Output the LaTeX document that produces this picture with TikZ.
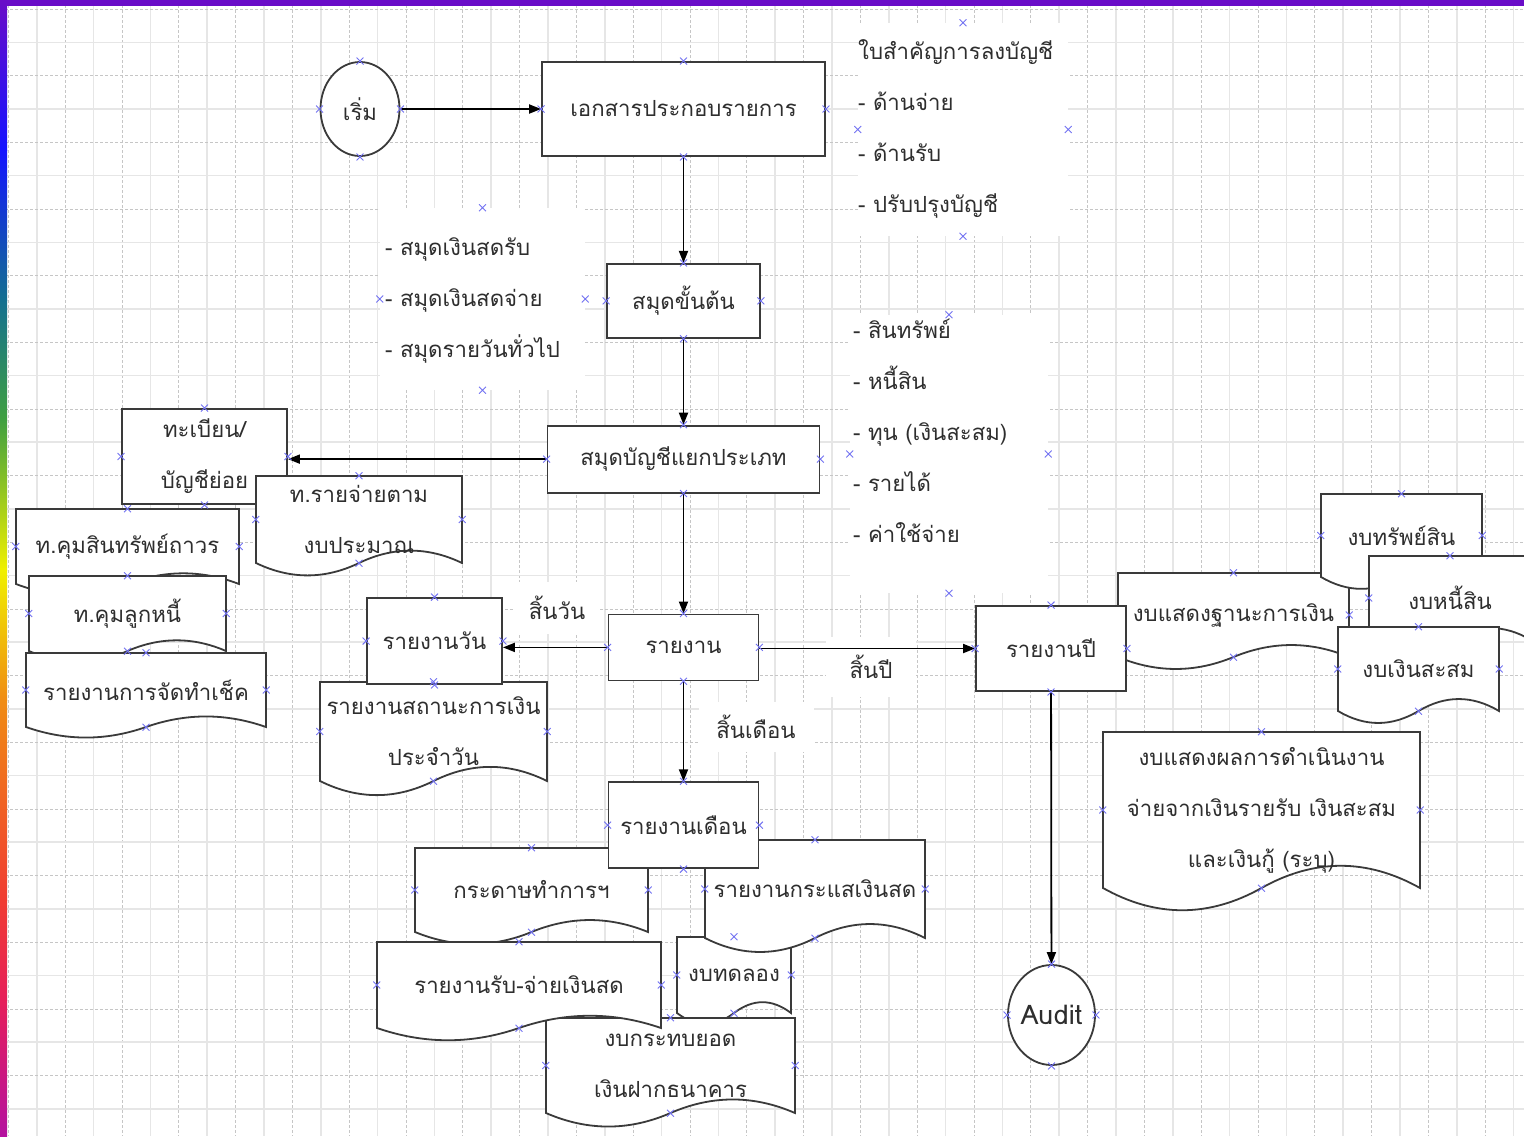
\documentclass[tikz,border=0pt]{standalone}
\usepackage{fontspec}
\newfontfamily\thaifont[Script=Thai]{Loma}
\usetikzlibrary{arrows.meta}
\usetikzlibrary{positioning}
\usetikzlibrary{shapes.geometric}
\usetikzlibrary{shapes.misc}

\definecolor{gridsolid}{HTML}{E6E6E6}
\definecolor{griddash}{HTML}{C6C6C6}
\definecolor{edgegray}{HTML}{3A3A3A}
\definecolor{markblue}{HTML}{7272F2}

% document shape: name, left, top, right, bottom, text
\newcommand{\docshape}[6]{%
  \filldraw[shape line] (#2,#3) -- (#4,#3) -- (#4,#5)
    .. controls ({#4-(#4-#2)/6},{#5-0.19*(#5-#3)}) and ({#4-(#4-#2)/3},{#5-0.19*(#5-#3)}) .. ({(#2+#4)/2},#5)
    .. controls ({(#2+#4)/2-(#4-#2)/6},{#5+0.19*(#5-#3)}) and ({#2+(#4-#2)/6},{#5+0.19*(#5-#3)}) .. (#2,#5) -- cycle;
  \node[doc text, minimum width={(#4-#2)*1pt}, minimum height={(#5-#3)*1pt}]
    (#1) at ({(#2+#4)/2},{(#3+#5)/2}) {#6};
}

\begin{document}
\begin{tikzpicture}[x=1pt,y=-1pt]
  \tikzset{
    >={Triangle[length=12pt,width=9pt]},
    every node/.style={font=\thaifont\fontsize{22.2}{51}\selectfont, text=black!82},
    shape line/.style={draw=edgegray, line width=1.8pt, fill=white},
    box/.style={shape line, rectangle, inner sep=0pt},
    oval/.style={shape line, ellipse, inner sep=0pt},
    doc text/.style={inner sep=0pt, align=center},
    list box/.style={fill=white, inner sep=0pt},
    list text/.style={align=left, inner sep=0pt, anchor=west},
    tag/.style={fill=white, inner sep=0pt},
    flow/.style={->, draw=black, line width=1.8pt},
    xmark/.style={cross out, draw=markblue, line width=0.9pt, minimum size=6pt, inner sep=0pt},
  }
  \useasboundingbox (0,0) rectangle (1524,1136);

  % grid paper
  \fill[white] (0,0) rectangle (1524,1136);
  \foreach \k in {0,...,53} {
    \pgfmathsetmacro{\gx}{8.4+28.4*\k}
    \ifodd\k \draw[gridsolid, line width=1.6pt] (\gx,0) -- (\gx,1136);
    \else \draw[griddash, line width=0.8pt, dash pattern=on 3pt off 2pt] (\gx,0) -- (\gx,1136); \fi
  }
  \foreach \k in {0,...,33} {
    \pgfmathsetmacro{\gy}{9+33.33*\k}
    \ifodd\k \draw[gridsolid, line width=1.6pt] (0,\gy) -- (1524,\gy);
    \else \draw[griddash, line width=0.8pt, dash pattern=on 3pt off 2pt] (0,\gy) -- (1524,\gy); \fi
  }

  % frame
  \fill[fill={rgb,255:red,106;green,13;blue,200}] (0,0) rectangle (1524,6);
  \shade[top color={rgb,255:red,106;green,13;blue,200}, bottom color={rgb,255:red,20;green,20;blue,255}] (0,0) rectangle (7,150);
  \shade[top color={rgb,255:red,20;green,20;blue,255}, bottom color={rgb,255:red,20;green,112;blue,144}] (0,150) rectangle (7,300);
  \shade[top color={rgb,255:red,20;green,112;blue,144}, bottom color={rgb,255:red,64;green,160;blue,64}] (0,300) rectangle (7,420);
  \shade[top color={rgb,255:red,64;green,160;blue,64}, bottom color={rgb,255:red,240;green,240;blue,0}] (0,420) rectangle (7,570);
  \shade[top color={rgb,255:red,240;green,240;blue,0}, bottom color={rgb,255:red,240;green,140;blue,20}] (0,570) rectangle (7,700);
  \shade[top color={rgb,255:red,240;green,140;blue,20}, bottom color={rgb,255:red,240;green,60;blue,50}] (0,700) rectangle (7,900);
  \shade[top color={rgb,255:red,240;green,60;blue,50}, bottom color={rgb,255:red,230;green,30;blue,90}] (0,900) rectangle (7,1000);
  \shade[top color={rgb,255:red,230;green,30;blue,90}, bottom color={rgb,255:red,180;green,17;blue,159}] (0,1000) rectangle (7,1136);

  % text boxes
  \node[list box, minimum width=210pt, minimum height=213pt] (vlist) at (963,129.5) {};
  \node[list text] at (858,129) {ใบสำคัญการลงบัญชี\\- ด้านจ่าย\\- ด้านรับ\\- ปรับปรุงบัญชี};
  \node[list box, minimum width=205pt, minimum height=182pt] (jlist) at (482.5,299) {};
  \node[list text] at (385,300) {- สมุดเงินสดรับ\\- สมุดเงินสดจ่าย\\- สมุดรายวันทั่วไป};
  \node[list box, minimum width=198pt, minimum height=278pt] (llist) at (949,454) {};
  \node[list text] at (853,431) {- สินทรัพย์\\- หนี้สิน\\- ทุน (เงินสะสม)\\- รายได้\\- ค่าใช้จ่าย};
  \node[tag, minimum width=85pt, minimum height=52pt] (eday) at (557,608) {สิ้นวัน};
  \node[tag, minimum width=115pt, minimum height=50pt] (emonth) at (756,727) {สิ้นเดือน};
  \node[tag, minimum width=90pt, minimum height=60pt] (eyear) at (871,667) {สิ้นปี};

  % main column
  \node[oval, minimum width=79pt, minimum height=94pt] (start) at (360,109) {เริ่ม};
  \node[box, minimum width=283pt, minimum height=94pt] (vouch) at (683.5,109) {เอกสารประกอบรายการ};
  \node[box, minimum width=153pt, minimum height=74pt, below=106pt of vouch] (jbook) {สมุดขั้นต้น};
  \node[box, minimum width=272pt, minimum height=67pt, below=86pt of jbook] (ledger) {สมุดบัญชีแยกประเภท};
  \node[box, minimum width=150pt, minimum height=66pt, below=120pt of ledger] (report) {รายงาน};

  % left cluster
  \node[box, minimum width=165pt, minimum height=95pt, align=center] (subreg) at (204.5,456.5) {ทะเบียน/\\บัญชีย่อย};
  \docshape{budget}{256}{476}{462}{563}{ท.รายจ่ายตาม\\งบประมาณ}
  \docshape{fixasset}{16}{509}{239}{584}{ท.คุมสินทรัพย์ถาวร}
  \docshape{debtor}{29}{576}{226}{651}{ท.คุมลูกหนี้}
  \docshape{cheque}{26}{653}{266}{727}{รายงานการจัดทำเช็ค}

  % daily
  \docshape{cashstat}{320}{682}{547}{781}{รายงานสถานะการเงิน\\ประจำวัน}
  \node[box, minimum width=135pt, minimum height=86pt] (daily) at (434.5,641) {รายงานวัน};

  % monthly
  \docshape{worksheet}{415}{848}{648}{932}{กระดาษทำการฯ}
  \docshape{trial}{677}{937}{791}{1013}{งบทดลอง}
  \docshape{bankrec}{546}{1018}{795}{1113}{งบกระทบยอด\\เงินฝากธนาคาร}
  \docshape{cashrr}{377}{942}{661}{1028}{รายงานรับ-จ่ายเงินสด}
  \docshape{cashflow}{705}{840}{925}{938}{รายงานกระแสเงินสด}
  \node[box, minimum width=150pt, minimum height=86pt, below=100pt of report] (month) {รายงานเดือน};

  % yearly
  \docshape{position}{1118}{573}{1349}{657}{งบแสดงฐานะการเงิน}
  \docshape{assets}{1321}{494}{1482}{577}{งบทรัพย์สิน}
  \docshape{liabs}{1369}{556}{1531}{640}{งบหนี้สิน}
  \docshape{reserve}{1338}{627}{1499}{711}{งบเงินสะสม}
  \node[box, minimum width=150pt, minimum height=85pt] (year) at (1051,648.5) {รายงานปี};
  \docshape{result}{1103}{732}{1420}{888}{งบแสดงผลการดำเนินงาน\\จ่ายจากเงินรายรับ เงินสะสม\\และเงินกู้ (ระบุ)}
  \node[oval, minimum width=86pt, minimum height=100pt, font=\thaifont\fontsize{27}{30}\selectfont] (audit) at (1051.5,1015) {Audit};

  % flow
  \draw[flow] (start) -- (vouch);
  \draw[flow] (vouch) -- (jbook);
  \draw[flow] (jbook) -- (ledger);
  \draw[flow] (ledger.west) -- (subreg.east |- ledger.west);
  \draw[flow] (ledger) -- (report);
  \draw[flow] (report.west) -- (daily.east |- report.west);
  \draw[flow] (report) -- (month);
  \draw[flow] (report.east |- year.west) -- (year.west);
  \draw[flow] (year) -- (audit);

  % connection marks
  \foreach \n in {start,vouch,vlist,jlist,jbook,ledger,llist,subreg,budget,debtor,cheque,
                  daily,cashstat,report,month,worksheet,cashflow,trial,cashrr,bankrec,
                  year,reserve,result,audit}
    \foreach \a in {north,south,east,west}
      \node[xmark] at (\n.\a) {};
  \foreach \p in {fixasset.north,fixasset.east,fixasset.west,
                  assets.north,assets.east,assets.west,
                  liabs.north,liabs.east,liabs.west,
                  position.north,position.east,position.south}
    \node[xmark] at (\p) {};
\end{tikzpicture}
\end{document}
